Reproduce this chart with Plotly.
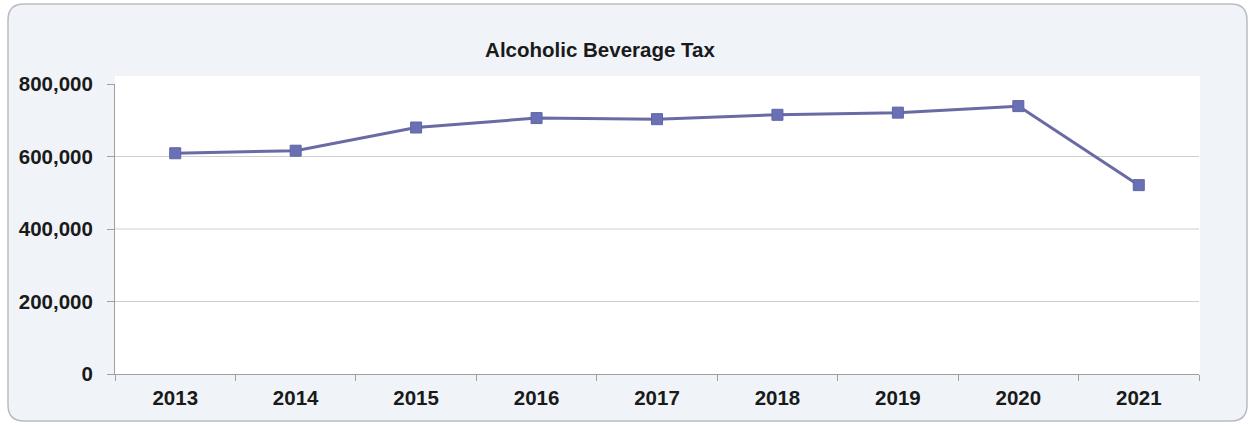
import plotly.graph_objects as go

# Alcoholic beverage tax collections by year
years = ["2013", "2014", "2015", "2016", "2017", "2018", "2019", "2020", "2021"]
revenue = [609000, 616000, 680000, 706000, 703000, 715000, 721000, 739000, 521000]
y_ticks = [0, 200000, 400000, 600000, 800000]
y_tick_text = ["0", "200,000", "400,000", "600,000", "800,000"]

W, H = 1255, 425
ML, MR, MT, MB = 115, 56, 84, 51
PW, PH = W - ML - MR, H - MT - MB
FONT = "Liberation Sans, Arial, sans-serif"


def px_x(p):
    return (p - ML) / PW


def px_y(p):
    return (H - MB - p) / PH


fig = go.Figure()
fig.add_trace(go.Scatter(
    x=years, y=revenue, mode="lines+markers",
    line=dict(color="#6a6aa4", width=3),
    marker=dict(symbol="square", size=11, color="#6a70b4",
                line=dict(color="#5f64a6", width=1)),
    hoverinfo="x+y", showlegend=False,
))

shapes = []
# rounded chart-area frame
x0, x1, y0, y1, r = px_x(8), px_x(1247), px_y(4), px_y(421), 16
rx, ry = r / PW, r / PH
shapes.append(dict(
    type="path", xref="paper", yref="paper", layer="below",
    path=(f"M {x0+rx},{y0} L {x1-rx},{y0} Q {x1},{y0} {x1},{y0-ry} "
          f"L {x1},{y1+ry} Q {x1},{y1} {x1-rx},{y1} L {x0+rx},{y1} "
          f"Q {x0},{y1} {x0},{y1+ry} L {x0},{y0-ry} Q {x0},{y0} {x0+rx},{y0} Z"),
    fillcolor="#f0f4f8", line=dict(color="#b9bdc1", width=1.5),
))
# white plot panel
shapes.append(dict(type="rect", xref="paper", yref="paper", layer="below",
                   x0=0, x1=px_x(1200), y0=0, y1=px_y(76),
                   fillcolor="#ffffff", line=dict(width=0)))
# horizontal gridlines between the axis ends
for v in y_ticks[1:-1]:
    shapes.append(dict(type="line", xref="paper", yref="y", layer="below",
                       x0=0, x1=1, y0=v, y1=v,
                       line=dict(color="#cfcfcf", width=1)))

fig.update_layout(
    width=W, height=H,
    margin=dict(l=ML, r=MR, t=MT, b=MB),
    paper_bgcolor="#ffffff",
    plot_bgcolor="rgba(0,0,0,0)",
    font=dict(family=FONT, color="#1a1a1a"),
    title=dict(text="<b>Alcoholic Beverage Tax</b>", xref="container", yref="container",
               x=600 / W, y=1 - 50 / H, xanchor="center", yanchor="middle",
               font=dict(size=20.5, color="#1a1a1a")),
    shapes=shapes,
    xaxis=dict(
        type="category", range=[-0.5, len(years) - 0.5],
        showline=True, linecolor="#a0a0a0", linewidth=1,
        ticks="outside", tickson="boundaries", ticklen=6, tickcolor="#a0a0a0",
        showgrid=False, zeroline=False,
        tickfont=dict(size=20.5, color="#1a1a1a", family=FONT),
        tickprefix="<b>", ticksuffix="</b>",
        ticklabelstandoff=5,
    ),
    yaxis=dict(
        range=[0, 800000], tickvals=y_ticks, ticktext=[f"<b>{t}</b>" for t in y_tick_text],
        showline=True, linecolor="#a0a0a0", linewidth=1,
        ticks="outside", ticklen=7, tickcolor="#a0a0a0",
        showgrid=False, zeroline=False,
        tickfont=dict(size=20.5, color="#1a1a1a", family=FONT),
        ticklabelstandoff=10,
    ),
)

fig.write_html("out.html")
